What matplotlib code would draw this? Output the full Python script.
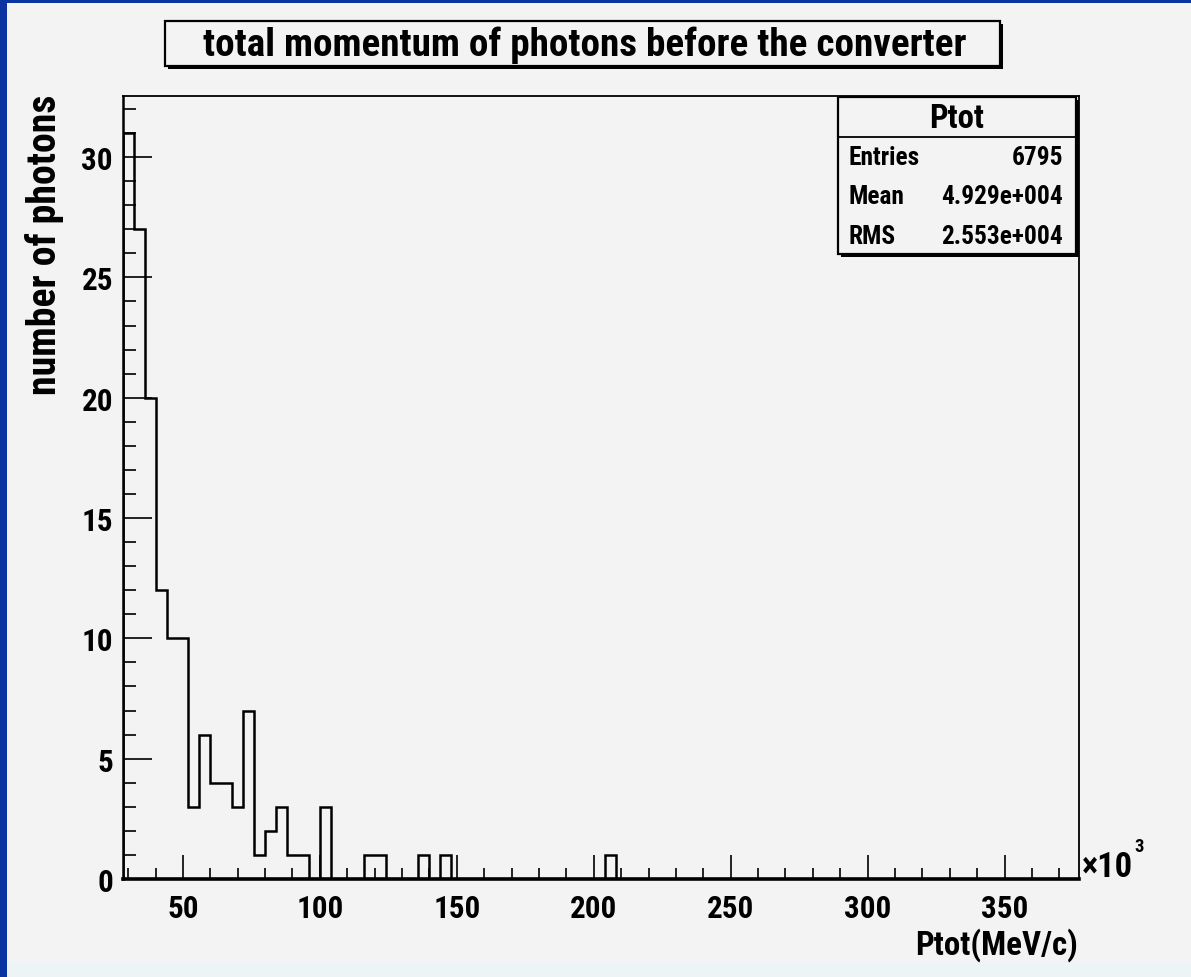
import matplotlib.pyplot as plt
from matplotlib import font_manager as fm
from matplotlib.patches import Rectangle
from matplotlib.ticker import MultipleLocator
import numpy as np

# histogram "Ptot": 87 bins of 4e3 MeV/c starting at 28e3 (axis in units of 10^3)
bin_start = 28
bin_width = 4
counts = [31, 27, 20, 12, 10, 10, 3, 6, 4, 4, 3, 7, 1, 2, 3, 1, 1, 0, 3,
          0, 0, 0, 1, 1, 0, 0, 0, 1, 0, 1,
          0, 0, 0, 0, 0, 0, 0, 0, 0, 0, 0, 0, 0, 0, 1,
          0, 0, 0, 0, 0, 0, 0, 0, 0, 0, 0, 0, 0, 0, 0, 0, 0, 0, 0, 0, 0,
          0, 0, 0, 0, 0, 0, 0, 0, 0, 0, 0, 0, 0, 0, 0, 0, 0, 0, 0, 0, 0]
edges = bin_start + bin_width * np.arange(len(counts) + 1)

title = "total momentum of photons before the converter"
xlabel = "Ptot(MeV/c)"
ylabel = "number of photons"
stats_name = "Ptot"
stats_rows = [("Entries", "6795"), ("Mean", "4.929e+004"), ("RMS", "2.553e+004")]

W, H = 1191, 978
bg = '#f3f3f3'


# ROOT's helvetica-bold looks narrow here; use a condensed face if there is one
def pick_font():
    for fam, stretch in [('Liberation Sans Narrow', 'normal'),
                         ('Roboto Condensed', 'normal'),
                         ('Roboto', 'condensed'),
                         ('Noto Sans', 'condensed')]:
        try:
            path = fm.findfont(fm.FontProperties(family=fam, weight='bold',
                                                 stretch=stretch),
                               fallback_to_default=False)
        except ValueError:
            continue
        low = path.lower()
        if 'narrow' in low or 'condensed' in low:
            return fam, stretch
    return 'Liberation Sans', 'normal'


fam, stretch = pick_font()
plt.rcParams['font.family'] = [fam, 'DejaVu Sans']
plt.rcParams['font.stretch'] = stretch
plt.rcParams['font.weight'] = 'bold'

fig = plt.figure(figsize=(W / 100, H / 100), dpi=100)
fig.patch.set_facecolor(bg)
renderer = fig.canvas.get_renderer()


def px(x, y):
    # pixel position (from top-left) -> figure fraction
    return x / W, 1 - y / H


def fit(txt, target, vertical=False):
    # scale font size so the text is as long as in the reference
    bb = txt.get_window_extent(renderer)
    cur = bb.height if vertical else bb.width
    txt.set_fontsize(txt.get_fontsize() * target / cur)
    return txt


def box(x0, y0, x1, y1, shadow=3, lw=1.6):
    fx, fy = px(x0 + shadow, y1 + shadow)
    fig.add_artist(Rectangle((fx, fy), (x1 - x0) / W, (y1 - y0) / H,
                             transform=fig.transFigure, facecolor='black',
                             edgecolor='black', lw=0, zorder=5))
    fx, fy = px(x0, y1)
    fig.add_artist(Rectangle((fx, fy), (x1 - x0) / W, (y1 - y0) / H,
                             transform=fig.transFigure, facecolor=bg,
                             edgecolor='black', lw=lw, zorder=6))


# canvas border
fig.add_artist(Rectangle((0, 1 - 4 / H), 1, 4 / H, transform=fig.transFigure,
                         facecolor='#0a34a0', lw=0))
fig.add_artist(Rectangle((0, 0), 7 / W, 1, transform=fig.transFigure,
                         facecolor='#0a34a0', lw=0))
fig.add_artist(Rectangle((7 / W, 0), 1, 15 / H, transform=fig.transFigure,
                         facecolor='#edf4f6', lw=0))

# tick label size from the width of "350"
probe = fig.text(0.5, 0.5, '350', fontsize=20, fontweight='bold')
tick_fs = fit(probe, 47).get_fontsize()
probe.remove()

l, b = px(122.7, 880)
r, t = px(1078.5, 96.7)
ax = fig.add_axes([l, b, r - l, t - b])
ax.set_facecolor(bg)
ax.stairs(counts, edges, color='black', lw=1.8)
ax.set_xlim(28, 377)
ax.set_ylim(0, 32.55)

ax.xaxis.set_major_locator(MultipleLocator(50))
ax.xaxis.set_minor_locator(MultipleLocator(10))
ax.yaxis.set_major_locator(MultipleLocator(5))
ax.yaxis.set_minor_locator(MultipleLocator(1))
ax.tick_params(axis='x', which='major', direction='in', length=17, width=1.2,
               labelsize=tick_fs, pad=10)
ax.tick_params(axis='x', which='minor', direction='in', length=8, width=1.2)
ax.tick_params(axis='y', which='major', direction='in', length=21, width=1.2,
               labelsize=tick_fs, pad=7)
ax.tick_params(axis='y', which='minor', direction='in', length=9, width=1.2)
for lab in ax.get_xticklabels() + ax.get_yticklabels():
    lab.set_fontweight('bold')

ax.spines['bottom'].set_linewidth(2.6)
ax.spines['left'].set_linewidth(1.8)
ax.spines['top'].set_linewidth(1.3)
ax.spines['right'].set_linewidth(1.3)

# axis titles
fit(fig.text(*px(1078, 945), xlabel, ha='right', va='center', fontsize=20,
             fontweight='bold'), 163)
fit(fig.text(*px(45, 95), ylabel, ha='center', va='top', rotation=90,
             fontsize=20, fontweight='bold'), 300, vertical=True)
mult = fit(fig.text(*px(1082, 868), '×10', ha='left', va='center',
                    fontsize=20, fontweight='bold'), 51)
mx = mult.get_window_extent(renderer).x1
fig.text(mx / W + 1 / W, 1 - 847 / H, '3', ha='left', va='center',
         fontsize=tick_fs * 0.6, fontweight='bold')

# title box
box(165, 22, 1000, 67)
fit(fig.text(*px(585, 45), title, ha='center', va='center', fontsize=20,
             fontweight='bold', zorder=7), 760)

# stats box
box(838, 98, 1076, 255)
sx0, sy = px(838, 138)
sx1, _ = px(1076, 138)
fig.add_artist(plt.Line2D([sx0, sx1], [sy, sy], transform=fig.transFigure,
                          color='black', lw=1.3, zorder=7))
fit(fig.text(*px(957, 119), stats_name, ha='center', va='center', fontsize=20,
             fontweight='bold', zorder=7), 55)
probe = fig.text(0.5, 0.5, stats_rows[1][1], fontsize=15, fontweight='bold')
stat_fs = fit(probe, 122).get_fontsize()
probe.remove()
for i, (name, val) in enumerate(stats_rows):
    y = 158 + 39.5 * i
    fig.text(*px(849, y), name, ha='left', va='center', fontsize=stat_fs,
             fontweight='bold', zorder=7)
    fig.text(*px(1063, y), val, ha='right', va='center', fontsize=stat_fs,
             fontweight='bold', zorder=7)

fig.savefig('out.png', dpi=100, facecolor=fig.get_facecolor())
